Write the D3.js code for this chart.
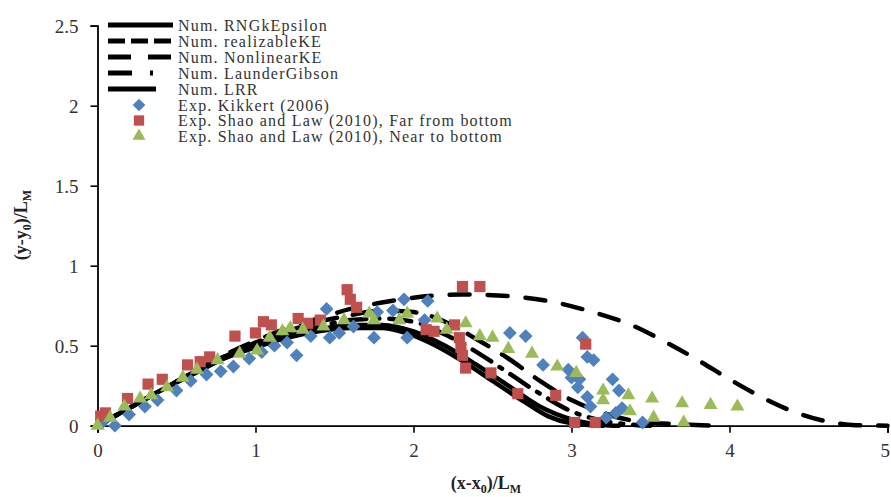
<!DOCTYPE html>
<html><head><meta charset="utf-8">
<script src="https://cdn.jsdelivr.net/npm/d3@7"></script>
<style>
html,body{margin:0;padding:0;background:#fff;}
text{font-family:"Liberation Serif","Times New Roman",serif;}
</style></head>
<body><svg id="c" width="891" height="497"></svg>
<script>
// ---- data ----
const xTicks = [0, 1, 2, 3, 4, 5];
const yTicks = [0, 0.5, 1, 1.5, 2, 2.5];
const yTickLabels = ["0", "0.5", "1", "1.5", "2", "2.5"];

const rngKEpsilon = [[0,0],[0.2,0.11],[0.4,0.22],[0.6,0.32],[0.8,0.42],[1.0,0.49],[1.2,0.55],[1.4,0.59],[1.6,0.61],[1.8,0.61],[1.95,0.58],[2.1,0.52],[2.3,0.41],[2.5,0.28],[2.7,0.15],[2.85,0.06],[3.0,0.015],[3.2,0]];
const lrr = [[0,0],[0.2,0.11],[0.4,0.22],[0.6,0.32],[0.8,0.42],[1.0,0.5],[1.2,0.56],[1.4,0.6],[1.6,0.63],[1.8,0.63],[2.0,0.59],[2.2,0.5],[2.4,0.38],[2.6,0.25],[2.8,0.12],[3.0,0.04],[3.2,0.005],[3.3,0]];
const launderGibson = [[0,0],[0.2,0.11],[0.4,0.22],[0.6,0.33],[0.8,0.43],[1.0,0.51],[1.2,0.57],[1.4,0.62],[1.6,0.66],[1.8,0.67],[2.0,0.65],[2.2,0.57],[2.4,0.46],[2.6,0.33],[2.8,0.2],[3.0,0.09],[3.2,0.03],[3.4,0.005],[3.5,0]];
const nonlinearKE = [[0,0],[0.2,0.11],[0.4,0.22],[0.6,0.33],[0.8,0.43],[1.0,0.52],[1.2,0.59],[1.4,0.65],[1.6,0.69],[1.8,0.72],[2.0,0.71],[2.2,0.65],[2.4,0.54],[2.6,0.42],[2.8,0.28],[3.0,0.16],[3.2,0.08],[3.4,0.03],[3.7,0.008],[3.95,0]];
const realizableKE = [[0,0],[0.2,0.11],[0.4,0.22],[0.6,0.33],[0.8,0.44],[1.0,0.53],[1.2,0.61],[1.4,0.67],[1.6,0.73],[1.8,0.77],[2.0,0.8],[2.3,0.82],[2.6,0.81],[2.9,0.77],[3.1,0.72],[3.4,0.62],[3.6,0.52],[3.8,0.41],[4.0,0.29],[4.2,0.18],[4.4,0.09],[4.6,0.03],[4.8,0.003],[5.0,0]];

const kikkert = [[0.11,0.0],[0.03,0.02],[0.2,0.07],[0.3,0.12],[0.38,0.16],[0.5,0.22],[0.59,0.28],[0.69,0.32],[0.78,0.34],[0.86,0.37],[0.96,0.42],[1.04,0.46],[1.12,0.5],[1.2,0.52],[1.26,0.44],[1.35,0.56],[1.45,0.73],[1.47,0.55],[1.53,0.58],[1.62,0.62],[1.75,0.55],[1.77,0.71],[1.87,0.72],[1.94,0.79],[1.96,0.55],[2.07,0.66],[2.09,0.78],[2.61,0.58],[2.71,0.56],[2.82,0.38],[2.98,0.35],[3.0,0.3],[3.04,0.24],[3.05,0.29],[3.07,0.55],[3.1,0.43],[3.1,0.18],[3.12,0.12],[3.14,0.41],[3.22,0.05],[3.26,0.29],[3.28,0.08],[3.3,0.22],[3.32,0.11],[3.45,0.02]];
const shaoFar = [[0.02,0.06],[0.05,0.08],[0.19,0.17],[0.32,0.26],[0.41,0.29],[0.57,0.38],[0.65,0.4],[0.71,0.43],[0.87,0.56],[1.0,0.58],[1.05,0.65],[1.1,0.63],[1.27,0.67],[1.33,0.64],[1.41,0.66],[1.58,0.85],[1.6,0.79],[1.64,0.74],[2.08,0.6],[2.13,0.59],[2.26,0.63],[2.29,0.55],[2.3,0.49],[2.31,0.44],[2.33,0.36],[2.31,0.87],[2.42,0.87],[2.49,0.33],[2.66,0.2],[2.9,0.19],[3.09,0.51],[3.02,0.02],[3.15,0.02]];
const shaoNear = [[0.0,0.0],[0.08,0.05],[0.17,0.12],[0.27,0.17],[0.34,0.19],[0.44,0.24],[0.54,0.3],[0.63,0.35],[0.76,0.41],[0.9,0.45],[1.01,0.47],[1.09,0.55],[1.17,0.59],[1.22,0.61],[1.3,0.6],[1.43,0.62],[1.56,0.66],[1.72,0.7],[1.75,0.66],[1.91,0.66],[1.96,0.7],[2.15,0.67],[2.21,0.6],[2.33,0.64],[2.42,0.56],[2.5,0.55],[2.6,0.48],[2.75,0.45],[2.91,0.37],[3.03,0.33],[3.2,0.22],[3.2,0.16],[3.36,0.19],[3.37,0.09],[3.51,0.17],[3.52,0.05],[3.7,0.14],[3.71,0.02],[3.88,0.13],[4.05,0.12]];

const lineSeries = [
  {name:"Num. RNGkEpsilon", data:rngKEpsilon, dash:null, legDash:null},
  {name:"Num. realizableKE", data:realizableKE, dash:"20,18", legDash:"17,6"},
  {name:"Num. NonlinearKE", data:nonlinearKE, dash:"24,16", legDash:"23,17"},
  {name:"Num. LaunderGibson", data:launderGibson, dash:"22,10,3,10", legDash:"24,18,3,40"},
  {name:"Num. LRR", data:lrr, dash:null, legDash:null, legShort:true}
];
const pointSeries = [
  {name:"Exp. Kikkert (2006)", data:kikkert, color:"#4F81BD", shape:d3.symbolSquare, size:95, rot:45},
  {name:"Exp. Shao and Law (2010), Far from bottom", data:shaoFar, color:"#C0504D", shape:d3.symbolSquare, size:125, rot:0},
  {name:"Exp. Shao and Law (2010), Near to  bottom", data:shaoNear, color:"#9BBB59", shape:d3.symbolTriangle, size:85, rot:0}
];

// ---- chart ----
const svg = d3.select("#c");
const x = d3.scaleLinear().domain([0,5]).range([97.5,887.5]);
const y = d3.scaleLinear().domain([0,2.5]).range([425.7,25.7]);

const gx = svg.append("g").attr("transform",`translate(0,${y(0)})`)
  .call(d3.axisBottom(x).tickValues(xTicks).tickSize(7).tickFormat(d3.format("d")));
const gy = svg.append("g").attr("transform",`translate(${x(0)},0)`)
  .call(d3.axisLeft(y).tickValues(yTicks).tickSize(7).tickFormat((d,i)=>yTickLabels[i]));
[gx,gy].forEach(g=>{
  g.select(".domain").attr("stroke","#000").attr("stroke-width",1.8);
  g.selectAll(".tick line").attr("stroke","#000").attr("stroke-width",1.6);
  g.selectAll(".tick text").attr("font-size",19).attr("fill","#333")
    .style("font-family","'Liberation Serif',serif");
});
gx.selectAll(".tick text").attr("y",31).attr("dy",0);
// keep the last label inside the page edge
gx.selectAll(".tick text").filter(d=>d===5).attr("text-anchor","end").attr("x",2);
gy.selectAll(".tick text").attr("x",-19).attr("dy","0.34em");

const line = d3.line().x(d=>x(d[0])).y(d=>y(d[1])).curve(d3.curveMonotoneX);
lineSeries.forEach(s=>{
  svg.append("path").datum(s.data).attr("d",line).attr("fill","none")
    .attr("stroke","#000").attr("stroke-width",4.5)
    .attr("stroke-dasharray",s.dash).attr("stroke-linecap","round");
});

pointSeries.forEach(s=>{
  const sym = d3.symbol().type(s.shape).size(s.size);
  svg.append("g").selectAll("path").data(s.data).join("path")
    .attr("d",sym).attr("fill",s.color)
    .attr("transform",d=>`translate(${x(d[0])},${y(d[1])}) rotate(${s.rot})`);
});

// legend
const leg = svg.append("g");
lineSeries.forEach((s,i)=>{
  const yy = 25 + i*16;
  leg.append("line").attr("x1",108).attr("x2",s.legShort?156:173).attr("y1",yy).attr("y2",yy)
    .attr("stroke","#000").attr("stroke-width",5).attr("stroke-dasharray",s.legDash);
  leg.append("text").attr("x",178).attr("y",yy+5.5).attr("font-size",16).attr("letter-spacing",1.2)
    .attr("fill","#333").text(s.name);
});
pointSeries.forEach((s,i)=>{
  const yy = 105 + i*15.5;
  const sym = d3.symbol().type(s.shape).size(s.size*0.85);
  leg.append("path").attr("d",sym).attr("fill",s.color).attr("transform",`translate(139,${yy}) rotate(${s.rot})`);
  leg.append("text").attr("x",178).attr("y",yy+5.5).attr("font-size",16).attr("letter-spacing",1.2)
    .attr("fill","#333").text(s.name);
});

// axis titles
const xt = svg.append("text").attr("x",486).attr("y",489).attr("text-anchor","middle")
  .attr("font-size",18).attr("font-weight","bold").attr("fill","#222");
xt.append("tspan").text("(x-x");
xt.append("tspan").text("0").attr("font-size",12).attr("dy",4);
xt.append("tspan").text(")/L").attr("dy",-4);
xt.append("tspan").text("M").attr("font-size",12).attr("dy",4);

const yt = svg.append("text").attr("transform","translate(27,225) rotate(-90)").attr("text-anchor","middle")
  .attr("font-size",18).attr("font-weight","bold").attr("fill","#222");
yt.append("tspan").text("(y-y");
yt.append("tspan").text("0").attr("font-size",12).attr("dy",4);
yt.append("tspan").text(")/L").attr("dy",-4);
yt.append("tspan").text("M").attr("font-size",12).attr("dy",4);
</script></body></html>
